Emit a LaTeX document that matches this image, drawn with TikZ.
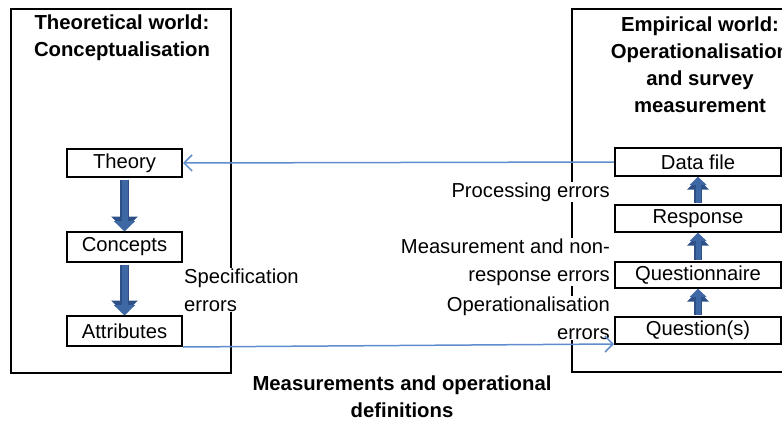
\documentclass[tikz,border=0pt]{standalone}
\usepackage{fontspec}
\setmainfont{Liberation Sans}
\usetikzlibrary{arrows.meta}
\definecolor{linkblue}{RGB}{95,140,205}
\definecolor{flowblue}{RGB}{62,104,164}
\definecolor{flowedge}{RGB}{45,80,135}
\tikzset{
  stage/.style={draw=black, line width=2pt, minimum height=28pt, inner sep=0pt,
    font=\fontsize{20.2}{22}\selectfont},
  leftstage/.style={stage, minimum width=115pt},
  rightstage/.style={stage, minimum width=166pt},
  world/.style={draw=black, line width=2.4pt},
  heading/.style={align=center, font=\fontsize{20.3}{27}\selectfont\bfseries, inner sep=0pt},
  errtext/.style={fill=white, inner sep=1pt, font=\fontsize{20.2}{28}\selectfont},
  flowout/.style={flowedge, line width=9pt, -{Triangle[width=26pt,length=13pt]}},
  flow/.style={flowblue, line width=6pt, -{Triangle[width=21pt,length=10.5pt]}},
  flowsmallout/.style={flowedge, line width=8pt, -{Triangle[width=21pt,length=11pt]}},
  flowsmall/.style={flowblue, line width=5pt, -{Triangle[width=16.5pt,length=8.5pt]}},
  link/.style={linkblue, line width=1.5pt, -{Straight Barb[length=8pt,width=16pt]}},
}
\begin{document}
\begin{tikzpicture}[x=1pt, y=-1pt]
\useasboundingbox (0,0) rectangle (782,421);
\begin{scope}
\clip (0,0) rectangle (782,421);

% the two worlds
\draw[world] (11,9) rectangle (231,373);
\draw[world] (572,9) rectangle (810,372);

\node[heading] (thhead) at (122,37.5) {Theoretical world:\\Conceptualisation};
\node[heading] (emhead) at (700,64.5) {Empirical world:\\Operationalisation\\and survey\\measurement};

% conceptual chain
\node[leftstage, fill=white] (theory) at (124.5,163) {Theory};
\node[leftstage, fill=white, minimum height=30pt] (concepts) at (124.5,247) {Concepts};
\node[leftstage, fill=white, minimum height=30pt] (attributes) at (124.5,331) {Attributes};

% measurement chain
\node[rightstage, fill=white] (datafile) at (698,162) {Data file};
\node[rightstage, fill=white, minimum height=27pt] (response) at (698,218.5) {Response};
\node[rightstage, fill=white, minimum height=26pt] (questionnaire) at (698,275) {Questionnaire};
\node[rightstage, fill=white, minimum height=27pt] (questions) at (698,330.5) {Question(s)};

% error labels
\node[errtext, align=left, anchor=west] (specerr) at (183,290) {Specification\\errors};
\node[errtext, anchor=east] (procerr) at (611,192) {Processing errors};
\node[errtext, align=right, anchor=east] (measerr) at (611,262) {Measurement and non-\\response errors};
\node[errtext, align=right, anchor=east] (operr) at (611,318) {Operationalisation\hspace{6pt}\\errors};

\node[heading] (defs) at (402,397) {Measurements and operational\\definitions};

% flows: dark rim first, then the lighter body
\foreach \a/\b in {theory/concepts, concepts/attributes}{
  \draw[flowout] ([yshift=-1.5pt]\a.south) -- ([yshift=1.5pt]\b.north);
  \draw[flow] ([yshift=-1.5pt]\a.south) -- ([yshift=-0.5pt]\b.north);
}
\foreach \a/\b in {questions/questionnaire, questionnaire/response, response/datafile}{
  \draw[flowsmallout] ([yshift=1.5pt]\a.north) -- ([yshift=-1.5pt]\b.south);
  \draw[flowsmall] ([yshift=1.5pt]\a.north) -- ([yshift=0.5pt]\b.south);
}

% links between the worlds
\draw[link] (datafile.west) -- (theory.east);
\draw[link] (attributes.south east) -- ([yshift=1pt]questions.south west);
\end{scope}
\end{tikzpicture}
\end{document}
